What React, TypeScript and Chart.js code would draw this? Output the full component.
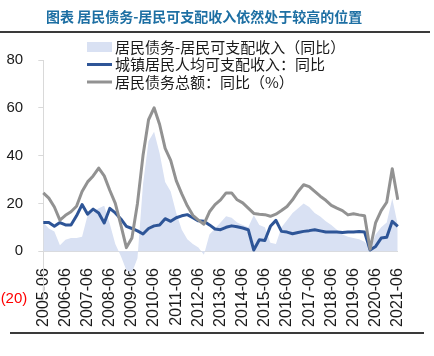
import { useEffect, useRef } from "react";
import { Chart, registerables } from "chart.js";

Chart.register(...registerables);

const titleText = "图表 居民债务-居民可支配收入依然处于较高的位置";

const categories = [
  "2005-06", "2005-09", "2005-12", "2006-03",
  "2006-06", "2006-09", "2006-12", "2007-03",
  "2007-06", "2007-09", "2007-12", "2008-03",
  "2008-06", "2008-09", "2008-12", "2009-03",
  "2009-06", "2009-09", "2009-12", "2010-03",
  "2010-06", "2010-09", "2010-12", "2011-03",
  "2011-06", "2011-09", "2011-12", "2012-03",
  "2012-06", "2012-09", "2012-12", "2013-03",
  "2013-06", "2013-09", "2013-12", "2014-03",
  "2014-06", "2014-09", "2014-12", "2015-03",
  "2015-06", "2015-09", "2015-12", "2016-03",
  "2016-06", "2016-09", "2016-12", "2017-03",
  "2017-06", "2017-09", "2017-12", "2018-03",
  "2018-06", "2018-09", "2018-12", "2019-03",
  "2019-06", "2019-09", "2019-12", "2020-03",
  "2020-06", "2020-09", "2020-12", "2021-03",
  "2021-06",
];

// 居民债务-居民可支配收入（同比）
const debtMinusIncome = [
  12, 9.5, 8.2, 2.5,
  4.8, 5.5, 5.5, 6,
  15, 16.5, 18, 19,
  11.5, 3, -2, -8,
  -9, -3, 28, 46,
  50, 41, 29, 25,
  16, 9, 5, 3,
  1.5, -1.5, 7, 9.5,
  12, 14.6, 14, 12,
  11, 10, 15, 11,
  10, 3.5, 3, 10,
  13, 16, 18, 20,
  18.5, 16, 14.5, 12.5,
  11, 9, 7, 6,
  5.5, 5, 4, 1,
  7, 10, 12, 22,
  11,
];

// 城镇居民人均可支配收入：同比
const urbanIncome = [
  12.0, 12.0, 10.4, 12.0,
  11.0, 11.0, 14.8, 19.5,
  15.5, 17.6, 16.0, 11.8,
  17.9, 16.0, 13.5, 10.4,
  9.5, 8.5, 7.2, 9.5,
  10.6, 11.0, 13.6, 12.5,
  14.0, 14.8, 15.3, 14.0,
  12.7, 12.5, 11.0, 9.3,
  9.0, 10.0, 10.6, 10.2,
  9.7, 9.0, 0.5, 4.8,
  4.5, 10.4, 12.9, 8.3,
  8.0, 7.3, 7.8, 8.3,
  8.6, 9.0, 8.5, 8.0,
  8.0, 8.0, 7.8, 8.0,
  8.0, 8.2, 8.0, 0.5,
  2.0, 5.5, 5.8, 12.5,
  10.4,
];

// 居民债务总额：同比（%）
const debtTotal = [
  24.4, 22.2, 18.5, 13.0,
  15.0, 16.5, 18.8, 25.0,
  29.0, 31.5, 34.8, 31.5,
  25.5, 20.0, 11.0, 1.5,
  5.5, 20.0, 40.0, 55.0,
  60.0, 53.0, 43.0, 38.0,
  29.5, 24.0, 19.0, 15.0,
  13.0, 11.3, 16.5, 19.5,
  21.5, 24.4, 24.4, 21.5,
  20.2, 18.0, 15.8, 15.5,
  15.3, 14.6, 15.5, 17.0,
  18.7, 21.5, 25.0, 27.8,
  27.0, 25.0, 23.0, 21.3,
  19.2, 18.0, 17.0, 15.2,
  15.7, 15.2, 14.8, 0.8,
  12.0, 17.0, 20.5, 34.5,
  21.5,
];

const seriesLabels = [
  "居民债务-居民可支配收入（同比）",
  "城镇居民人均可支配收入：同比",
  "居民债务总额：同比（%）",
];

const yMin = -20;
const yMax = 80;
const yStep = 20;

const decorPlugin = {
  id: "decor",
  afterDraw(chart: any) {
    const ctx = chart.ctx as CanvasRenderingContext2D;
    ctx.save();
    // title
    ctx.font = 'bold 14px "Noto Sans CJK SC", sans-serif';
    ctx.fillStyle = "#1d6fa3";
    ctx.textBaseline = "middle";
    ctx.textAlign = "left";
    ctx.fillText(titleText, 46, 16.5);
    // rules
    ctx.strokeStyle = "#3a3a3a";
    ctx.lineWidth = 2;
    ctx.beginPath();
    ctx.moveTo(0, 32);
    ctx.lineTo(430, 32);
    ctx.stroke();
    ctx.beginPath();
    ctx.moveTo(10, 333);
    ctx.lineTo(424, 333);
    ctx.stroke();
    // legend
    const rows = [47, 64.5, 82];
    chart.data.datasets.forEach((ds: any, i: number) => {
      const y = rows[i];
      if (i === 0) {
        ctx.fillStyle = ds.backgroundColor;
        ctx.fillRect(87, y - 5, 25, 10);
      } else {
        ctx.strokeStyle = ds.borderColor;
        ctx.lineWidth = 3;
        ctx.beginPath();
        ctx.moveTo(87, y);
        ctx.lineTo(112, y);
        ctx.stroke();
      }
      ctx.fillStyle = "#1a1a1a";
      ctx.font = '15px "Noto Sans CJK SC", sans-serif';
      ctx.textBaseline = "middle";
      ctx.fillText(ds.label, 115, y);
    });
    ctx.restore();
  },
};

export default function App() {
  const ref = useRef<HTMLCanvasElement | null>(null);

  useEffect(() => {
    document.body.style.margin = "0";
    const canvas = ref.current;
    if (!canvas) return;
    const numFont = { family: '"Liberation Sans", Arial, sans-serif', size: 16 };
    const chart = new Chart(canvas, {
      type: "line",
      data: {
        labels: categories,
        datasets: [
          {
            label: seriesLabels[0],
            data: debtMinusIncome,
            fill: "origin",
            backgroundColor: "#d9e1f3",
            borderWidth: 0,
            borderColor: "rgba(0,0,0,0)",
            pointRadius: 0,
            order: 2,
          },
          {
            label: seriesLabels[1],
            data: urbanIncome,
            fill: false,
            borderColor: "#2e5597",
            borderWidth: 3,
            pointRadius: 0,
            order: 1,
          },
          {
            label: seriesLabels[2],
            data: debtTotal,
            fill: false,
            borderColor: "#929292",
            borderWidth: 3,
            pointRadius: 0,
            order: 0,
          },
        ],
      },
      options: {
        responsive: false,
        animation: false,
        devicePixelRatio: 1,
        layout: { padding: { left: 0, right: 17.6, top: 60, bottom: 57 } },
        plugins: {
          legend: { display: false },
          tooltip: { enabled: false },
          title: { display: false },
        },
        elements: { line: { tension: 0, borderJoinStyle: "round" } },
        scales: {
          x: {
            type: "category",
            position: { y: 0 } as any,
            offset: false,
            grid: { display: true, drawOnChartArea: false, drawTicks: false },
            border: { display: true, color: "#d9d9d9", width: 1 },
            ticks: {
              autoSkip: false,
              minRotation: 90,
              maxRotation: 90,
              padding: 17,
              color: "#1a1a1a",
              font: numFont,
              callback: (_v: any, index: number) => {
                const l = categories[index];
                return l.endsWith("-06") ? l : "";
              },
            },
            afterFit: (s: any) => {
              s.height = 0;
            },
          } as any,
          y: {
            min: yMin,
            max: yMax,
            ticks: {
              stepSize: yStep,
              padding: 11,
              font: { family: '"Liberation Sans", Arial, sans-serif', size: 15 },
              color: (c: any) => (c.tick && c.tick.value < 0 ? "#ff0000" : "#1a1a1a"),
              callback: (v: any) => (Number(v) < 0 ? `(${-Number(v)})` : `${v} `),
            },
            grid: { drawOnChartArea: false, tickLength: 5, color: "#d9d9d9" },
            border: { display: true, color: "#d9d9d9" },
            afterFit: (s: any) => {
              s.width = 43.3;
            },
          } as any,
        },
      },
      plugins: [decorPlugin],
    });
    return () => chart.destroy();
  }, []);

  return (
    <div style={{ width: 434, height: 356 }}>
      <canvas ref={ref} width={434} height={356} style={{ width: 434, height: 356, display: "block" }} />
    </div>
  );
}
